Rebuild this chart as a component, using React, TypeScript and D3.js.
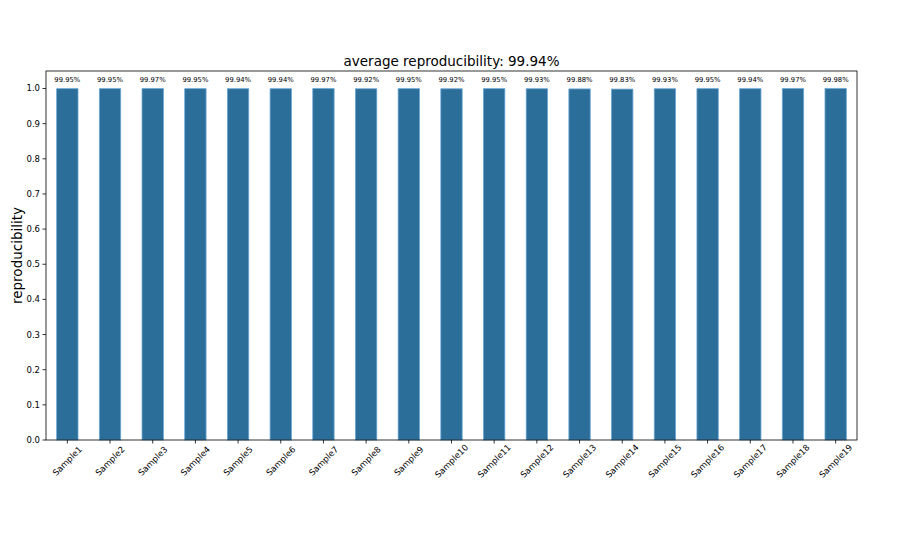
import React from "react";
import * as d3 from "d3";

const samples = ["Sample1","Sample2","Sample3","Sample4","Sample5","Sample6","Sample7","Sample8","Sample9","Sample10","Sample11","Sample12","Sample13","Sample14","Sample15","Sample16","Sample17","Sample18","Sample19"];
const percents = [99.95, 99.95, 99.97, 99.95, 99.94, 99.94, 99.97, 99.92, 99.95, 99.92, 99.95, 99.93, 99.88, 99.83, 99.93, 99.95, 99.94, 99.97, 99.98];
const yTicks = [0, 0.1, 0.2, 0.3, 0.4, 0.5, 0.6, 0.7, 0.8, 0.9, 1.0];
const title = "average reproducibility: 99.94%";

const W = 922, H = 558;
const left = 46, right = 857, top = 71, bottom = 440;

export default function App() {
  const vals = percents.map((p) => p / 100);
  const ymax = d3.max(vals)! * 1.05;
  const y = d3.scaleLinear().domain([0, ymax]).range([bottom, top]);
  const x = d3.scaleLinear().domain([-0.5, samples.length - 0.5]).range([left, right]);
  const bw = x(0.25) - x(0);
  const font = "DejaVu Sans, sans-serif";
  return (
    <svg width={W} height={H} style={{ position: "absolute", left: 0, top: 0 }} fontFamily={font}>
      <rect width={W} height={H} fill="#fff" />
      {vals.map((v, i) => (
        <g key={samples[i]}>
          <rect x={x(i) - bw} y={y(v)} width={bw * 2} height={y(0) - y(v)} fill="#2b6e9a" stroke="#6aa6d2" strokeWidth={0.8} />
          <text x={x(i)} y={y(v) - 7} fontSize={6.8} textAnchor="middle" fill="#000">{percents[i].toFixed(2)}%</text>
        </g>
      ))}
      <rect x={left} y={top} width={right - left} height={bottom - top} fill="none" stroke="#000" strokeWidth={0.8} />
      {yTicks.map((t) => (
        <g key={t}>
          <line x1={left - 3.5} x2={left} y1={y(t)} y2={y(t)} stroke="#000" strokeWidth={0.8} />
          <text x={left - 6} y={y(t)} dy="0.35em" fontSize={8.5} textAnchor="end">{t.toFixed(1)}</text>
        </g>
      ))}
      {samples.map((s, i) => (
        <g key={s}>
          <line x1={x(i)} x2={x(i)} y1={bottom} y2={bottom + 3.5} stroke="#000" strokeWidth={0.8} />
          <text transform={`translate(${x(i)},${bottom + 21}) rotate(-45)`} fontSize={8.5} textAnchor="middle" dy="0.35em">{s}</text>
        </g>
      ))}
      <text x={(left + right) / 2} y={top - 5} fontSize={13.5} textAnchor="middle">{title}</text>
      <text transform={`translate(22,${(top + bottom) / 2}) rotate(-90)`} fontSize={13.5} textAnchor="middle">reproducibility</text>
    </svg>
  );
}
